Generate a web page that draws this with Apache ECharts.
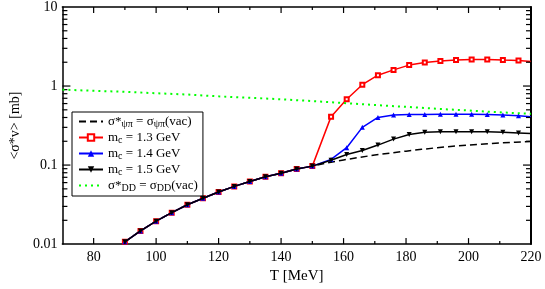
<!DOCTYPE html>
<html><head><meta charset="utf-8">
<script src="https://cdn.jsdelivr.net/npm/echarts@6/dist/echarts.min.js"></script>
<style>html,body{margin:0;padding:0;background:#fff}#c{width:545px;height:289px}</style>
</head><body><div id="c"></div>
<script>
// ---- data ----
const tLow = [90,95,100,105,110,115,120,125,130,135,140,145,150];
const commonLow = [0.0107,0.0147,0.0195,0.025,0.0315,0.038,0.0457,0.0537,0.062,0.071,0.079,0.089,0.097];
const tHigh = [156,161,166,171,176,181,186,191,196,201,206,211,216,220];
const red13 = [0.41,0.68,1.04,1.37,1.6,1.84,1.98,2.07,2.13,2.17,2.17,2.13,2.11,2.04];
const blue14 = [0.118,0.166,0.30,0.40,0.43,0.435,0.435,0.44,0.44,0.44,0.435,0.43,0.42,0.41];
const black15 = [0.115,0.136,0.153,0.179,0.213,0.243,0.26,0.264,0.264,0.264,0.264,0.26,0.255,0.25];
const tVacHigh = [155,160,165,170,175,180,185,190,195,200,205,210,215,220];
const vacHigh = [0.107,0.116,0.125,0.134,0.142,0.150,0.158,0.166,0.173,0.179,0.185,0.190,0.195,0.199];
const tDD = [70,80,90,100,110,120,130,140,150,160,170,180,190,200,210,220];
const ddVac = [0.90,0.87,0.845,0.81,0.78,0.74,0.71,0.68,0.645,0.61,0.575,0.545,0.515,0.49,0.465,0.445];
const xTickVals = [80,90,100,110,120,130,140,150,160,170,180,190,200,210];
const yTickVals = [0.02,0.03,0.04,0.05,0.06,0.07,0.08,0.09,0.1,0.2,0.3,0.4,0.5,0.6,0.7,0.8,0.9,1,2,3,4,5,6,7,8,9];
const xMin = 70, xMax = 220, yMin = 0.01, yMax = 10;

const FONT = "'Liberation Serif','DejaVu Serif',serif";

function pairs(xs, ys){ return xs.map((x,i)=>[x, ys[i]]); }
function withEnd(xs, ys){
  const d = pairs(tLow, commonLow).concat(pairs(xs, ys));
  const last = d.pop();
  d.push({value:last, symbol:'none'});
  return d;
}

const legendNames = {
  vac: '{b|σ*}{s|ψπ}{b| = σ}{s|ψπ}{b|(vac)}',
  m13: '{b|m}{s|c}{b| = 1.3 GeV}',
  m14: '{b|m}{s|c}{b| = 1.4 GeV}',
  m15: '{b|m}{s|c}{b| = 1.5 GeV}',
  dd:  '{b|σ*}{s|DD}{b| = σ}{s|DD}{b|(vac)}'
};

const chart = echarts.init(document.getElementById('c'), null, {renderer:'canvas'});

const tickSeriesX = {
  type:'custom', silent:true, z:5, clip:false,
  xAxisIndex:0, yAxisIndex:0,
  data: xTickVals.map(x=>[x,1]),
  renderItem: function(params, api){
    const x = api.value(0);
    const len = (x % 20 === 0) ? 6 : 3;
    const b = api.coord([x, yMin]);
    const t = api.coord([x, yMax]);
    const st = {stroke:'#000', lineWidth:1.2};
    return {type:'group', children:[
      {type:'line', shape:{x1:b[0],y1:b[1],x2:b[0],y2:b[1]-len}, style:st},
      {type:'line', shape:{x1:t[0],y1:t[1],x2:t[0],y2:t[1]+len}, style:st}
    ]};
  }
};
const tickSeriesY = {
  type:'custom', silent:true, z:5, clip:false,
  xAxisIndex:0, yAxisIndex:0,
  data: yTickVals.map(v=>[100, v]),
  renderItem: function(params, api){
    const v = api.value(1);
    const major = Math.abs(Math.log10(v) - Math.round(Math.log10(v))) < 1e-6;
    const len = major ? 8 : 5;
    const l = api.coord([xMin, v]);
    const r = api.coord([xMax, v]);
    const st = {stroke:'#000', lineWidth:1.2};
    return {type:'group', children:[
      {type:'line', shape:{x1:l[0],y1:l[1],x2:l[0]+len,y2:l[1]}, style:st},
      {type:'line', shape:{x1:r[0],y1:r[1],x2:r[0]-len,y2:r[1]}, style:st}
    ]};
  }
};

const option = {
  backgroundColor:'#fff',
  animation:false,
  grid:{left:48, right:14, top:5, bottom:36},
  legend:{
    data:[{name:'vac', itemStyle:{opacity:0}}, 'm13', 'm14', 'm15', {name:'dd', itemStyle:{opacity:0}}],
    orient:'vertical', left:72, top:112,
    backgroundColor:'#fff', borderColor:'#000', borderWidth:1,
    padding:[2,5,3,6], itemGap:1, itemWidth:24, itemHeight:8,
    formatter: n => legendNames[n],
    textStyle:{fontFamily:FONT, color:'#000', fontSize:13,
      rich:{ b:{fontFamily:FONT, fontSize:13, color:'#000', lineHeight:14},
             s:{fontFamily:FONT, fontSize:10, color:'#000', padding:[5,0,0,0], lineHeight:14} } }
  },
  xAxis:[{
    type:'value', min:xMin, max:xMax, interval:10, position:'bottom',
    name:'T [MeV]', nameLocation:'middle', nameGap:20,
    nameTextStyle:{fontFamily:FONT, fontSize:15, color:'#000'},
    axisLine:{show:true, onZero:false, lineStyle:{color:'#000', width:1.5}},
    axisTick:{show:false}, splitLine:{show:false},
    axisLabel:{fontFamily:FONT, fontSize:14, color:'#000', margin:6,
      formatter: v => (v % 20 === 0) ? String(v) : ''}
  },{
    type:'value', min:xMin, max:xMax, interval:10, position:'top',
    axisLine:{show:true, onZero:false, lineStyle:{color:'#000', width:1.5}},
    axisTick:{show:false}, axisLabel:{show:false}, splitLine:{show:false}
  }],
  yAxis:[{
    type:'log', logBase:10, min:yMin, max:yMax, position:'left',
    name:'<σ*v> [mb]', nameLocation:'middle', nameGap:37, nameRotate:90,
    nameTextStyle:{fontFamily:FONT, fontSize:14, color:'#000'},
    axisLine:{show:true, onZero:false, lineStyle:{color:'#000', width:1.5}},
    axisTick:{show:false}, splitLine:{show:false}, minorTick:{show:false},
    axisLabel:{fontFamily:FONT, fontSize:14, color:'#000', margin:5,
      formatter: v => { const m = {0.01:'0.01',0.1:'0.1',1:'1',10:'10'}; return m[v] !== undefined ? m[v] : String(v); }}
  },{
    type:'log', logBase:10, min:yMin, max:yMax, position:'right',
    axisLine:{show:true, onZero:false, lineStyle:{color:'#000', width:2}},
    axisTick:{show:false}, axisLabel:{show:false}, splitLine:{show:false}
  }],
  series:[
    { name:'vac', type:'line', data: pairs(tLow, commonLow).concat(pairs(tVacHigh, vacHigh)),
      showSymbol:false, symbol:'none', lineStyle:{color:'#000', width:1.5, type:[7,4]}, itemStyle:{color:'#000'}, z:2 },
    { name:'m13', type:'line', data: withEnd(tHigh, red13),
      symbol:'emptyRect', symbolSize:4, lineStyle:{color:'#ff0000', width:1.5},
      itemStyle:{color:'#ff0000', borderWidth:1}, z:3 },
    { name:'m14', type:'line', data: withEnd(tHigh, blue14),
      symbol:'triangle', symbolSize:5, lineStyle:{color:'#0000ff', width:1.5},
      itemStyle:{color:'#0000ff'}, z:4 },
    { name:'m15', type:'line', data: withEnd(tHigh, black15),
      symbol:'triangle', symbolRotate:180, symbolSize:5, lineStyle:{color:'#000', width:1.5},
      itemStyle:{color:'#000'}, z:5 },
    { name:'dd', type:'line', data: pairs(tDD, ddVac),
      showSymbol:false, symbol:'none', lineStyle:{color:'#00ff00', width:2, type:[2,4]}, itemStyle:{color:'#00ff00'}, z:6 },
    tickSeriesX, tickSeriesY
  ]
};
chart.setOption(option);
</script></body></html>
